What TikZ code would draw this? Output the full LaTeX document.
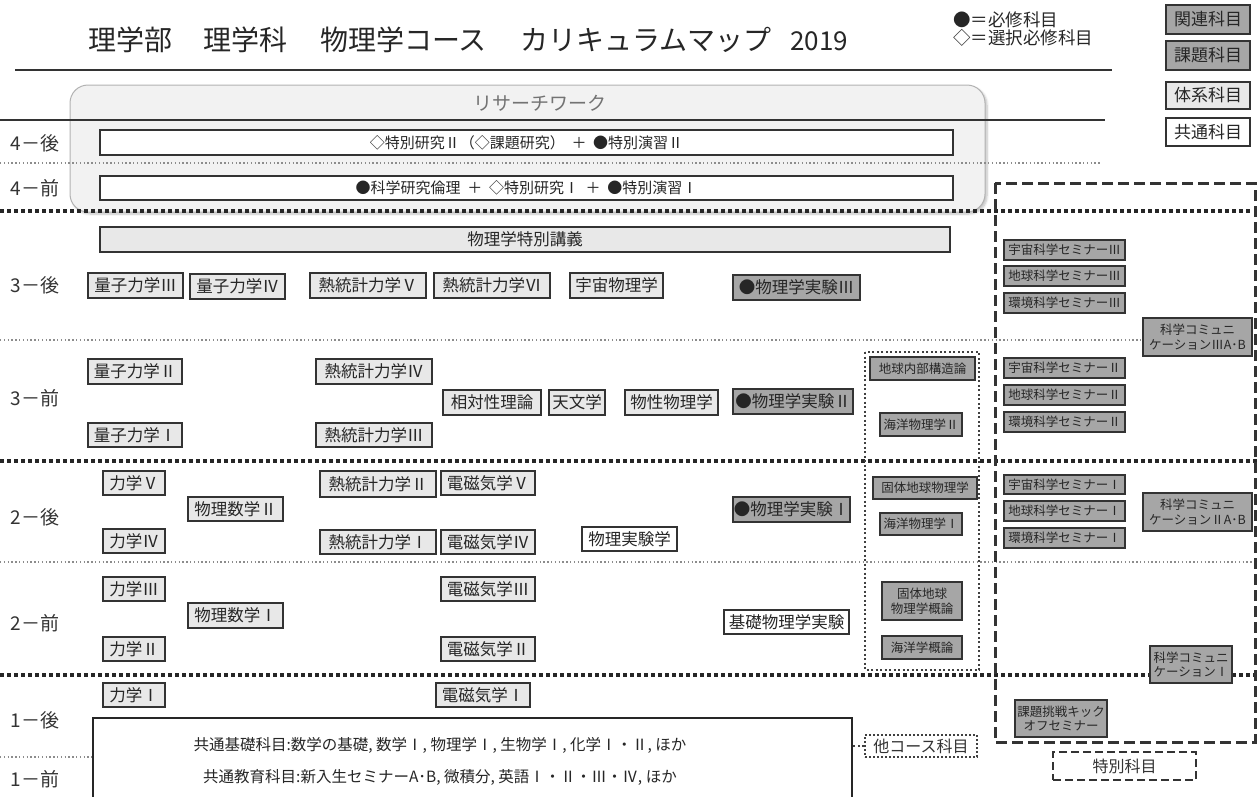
\documentclass[tikz,border=0pt]{standalone}
\usepackage{fontspec}
\setmainfont{Noto Sans CJK JP}
\usetikzlibrary{shadows,shadows.blur}
\newcommand\bx[7][]{\node[#1, minimum width={(#5-#3)*1pt}, minimum height={(#6-#4)*1pt}] (#2) at ({(#3+#5)/2},{(#4+#6)/2}) {#7};}
\begin{document}
\begin{tikzpicture}[x=1pt,y=-1pt,
  box/.style={draw=black!80, line width=1.2pt, inner sep=0pt, align=center, text=black!85,
    font=\fontsize{16.5}{18}\selectfont,
    drop shadow={opacity=0.3,shadow xshift=1.2pt,shadow yshift=-1.2pt}},
  tai/.style={box, fill=black!9},
  kan/.style={box, fill=black!35},
  kyo/.style={box, fill=white},
  small/.style={font=\fontsize{12.5}{15}\selectfont},
  sem/.style={kan, font=\fontsize{12.5}{14.5}\selectfont},
  rowlab/.style={text=black!80, font=\fontsize{19}{19}\selectfont, inner sep=0pt},
  thickdot/.style={line width=3.5pt, dash pattern=on 3.5pt off 3.5pt, black!85},
  thindot/.style={line width=1.4pt, dash pattern=on 1.4pt off 2.4pt, black!45},
  geodot/.style={line width=2pt, dash pattern=on 2pt off 2.5pt, black!75},
  thickdash/.style={line width=3pt, dash pattern=on 11pt off 5pt, black!80},
  legbox/.style={box, font=\fontsize{17}{17}\selectfont},
  ttl/.style={anchor=base west, inner sep=0pt, text=black!85, font=\fontsize{28}{28}\selectfont},
  legtxt/.style={anchor=west, inner sep=0pt, text=black!85, font=\fontsize{17.5}{17.5}\selectfont}
]
\useasboundingbox (0,0) rectangle (1258,796);

% research work area
\node[draw=black!30, fill=black!5, line width=1pt, rounded corners=18pt,
  minimum width=915pt, minimum height=127pt,
  blur shadow={shadow xshift=2pt, shadow yshift=-2pt, shadow blur steps=6, shadow opacity=25}] (rw) at (527.5,148.5) {};
\node[text=black!55, font=\fontsize{19}{19}\selectfont] (rwlab) at (540,103) {リサーチワーク};

% title
\node[ttl] (t1) at (88,50) {理学部};
\node[ttl] (t2) at (203,50) {理学科};
\node[ttl] (t3) at (320,50) {物理学コース};
\node[ttl] (t4) at (520,50) {カリキュラムマップ};
\node[ttl, font=\fontsize{26}{26}\selectfont] (t5) at (790,50) {2019};
\node[legtxt] (lg1) at (953,20) {●＝必修科目};
\node[legtxt] (lg2) at (953,38) {◇＝選択必修科目};
\draw[line width=1.5pt, black!80] (15,70) -- (1112,70);

% legend boxes
\bx[legbox, fill=black!35]{kanren}{1166}{5}{1250}{34}{関連科目}
\bx[legbox, fill=black!35]{kadai}{1166}{41}{1250}{70}{課題科目}
\bx[legbox, fill=black!9]{taikei}{1166}{82}{1250}{109}{体系科目}
\bx[legbox, fill=white]{kyotsu}{1166}{118}{1250}{146}{共通科目}

% separators
\draw[line width=1.3pt, black!80] (0,120) -- (1105,120);
\draw[thindot] (0,163) -- (1100,163);
\draw[thickdot] (0,211) -- (1250,211);
\draw[thindot] (0,340) -- (1258,340);
\draw[thickdot] (0,461) -- (1258,461);
\draw[thindot] (0,562) -- (1258,562);
\draw[thickdot] (0,675) -- (1258,675);
\draw[thindot] (0,757) -- (93,757);

% right dashed region and geo dotted box
\draw[thickdash] (995,183) rectangle (1255,742);
\draw[geodot] (865,352) rectangle (979,670);

% row labels
\node[rowlab] (l4b) at (35,143) {4－後};
\node[rowlab] (l4a) at (35,188) {4－前};
\node[rowlab] (l3b) at (35,285) {3－後};
\node[rowlab] (l3a) at (35,398) {3－前};
\node[rowlab] (l2b) at (35,517) {2－後};
\node[rowlab] (l2a) at (35,623) {2－前};
\node[rowlab] (l1b) at (35,720) {1－後};
\node[rowlab] (l1a) at (35,779) {1－前};

% year 4
\bx[kyo, font=\fontsize{15}{17}\selectfont]{r4b}{100}{130}{953}{155}{◇特別研究Ⅱ（◇課題研究） \ ＋ \ ●特別演習Ⅱ}
\bx[kyo, font=\fontsize{15}{17}\selectfont]{r4a}{100}{176}{953}{200}{●科学研究倫理 \ ＋ \ ◇特別研究Ⅰ \ ＋ \ ●特別演習Ⅰ}

% year 3 late
\bx[tai]{sp}{100}{227}{950}{252}{物理学特別講義}
\bx[tai]{q3}{88}{273}{183}{298}{量子力学Ⅲ}
\bx[tai]{q4}{190}{274}{285}{299}{量子力学Ⅳ}
\bx[tai]{t5}{310}{273}{426}{298}{熱統計力学Ⅴ}
\bx[tai]{t6}{434}{273}{550}{298}{熱統計力学Ⅵ}
\bx[tai]{uc}{570}{273}{663}{298}{宇宙物理学}
\bx[kan]{e3}{733}{275}{860}{300}{●物理学実験Ⅲ}

% year 3 early
\bx[tai]{q2}{88}{359}{182}{384}{量子力学Ⅱ}
\bx[tai]{t4}{316}{359}{432}{384}{熱統計力学Ⅳ}
\bx[tai]{rel}{443}{390}{541}{415}{相対性理論}
\bx[tai]{ast}{549}{390}{605}{415}{天文学}
\bx[tai]{sol}{625}{390}{718}{415}{物性物理学}
\bx[kan]{e2}{733}{389}{853}{414}{●物理学実験Ⅱ}
\bx[tai]{q1}{88}{423}{182}{447}{量子力学Ⅰ}
\bx[tai]{t3}{316}{423}{432}{447}{熱統計力学Ⅲ}
\bx[kan, small]{gi}{870}{357}{975}{380}{地球内部構造論}
\bx[kan, small]{o2}{880}{413}{962}{436}{海洋物理学Ⅱ}

% year 2 late
\bx[tai]{m5}{103}{471}{165}{495}{力学Ⅴ}
\bx[tai]{pm2}{188}{497}{283}{521}{物理数学Ⅱ}
\bx[tai]{m4}{103}{529}{165}{553}{力学Ⅳ}
\bx[tai]{t2}{320}{471}{436}{497}{熱統計力学Ⅱ}
\bx[tai]{em5}{441}{471}{535}{495}{電磁気学Ⅴ}
\bx[tai]{t1}{320}{530}{436}{554}{熱統計力学Ⅰ}
\bx[tai]{em4}{441}{530}{535}{554}{電磁気学Ⅳ}
\bx[kyo]{px}{582}{527}{677}{551}{物理実験学}
\bx[kan]{e1}{733}{497}{850}{522}{●物理学実験Ⅰ}
\bx[kan, small]{se}{873}{477}{977}{499}{固体地球物理学}
\bx[kan, small]{o1}{880}{513}{962}{535}{海洋物理学Ⅰ}

% year 2 early
\bx[tai]{m3}{103}{577}{165}{601}{力学Ⅲ}
\bx[tai]{pm1}{188}{603}{283}{628}{物理数学Ⅰ}
\bx[tai]{m2}{103}{637}{165}{661}{力学Ⅱ}
\bx[tai]{em3}{441}{577}{535}{601}{電磁気学Ⅲ}
\bx[tai]{em2}{441}{637}{535}{661}{電磁気学Ⅱ}
\bx[kyo]{bx}{724}{610}{849}{634}{基礎物理学実験}
\bx[kan, small]{sei}{882}{582}{962}{620}{固体地球\\物理学概論}
\bx[kan, small]{oc}{882}{636}{962}{659}{海洋学概論}

% year 1
\bx[tai]{m1}{103}{683}{165}{707}{力学Ⅰ}
\bx[tai]{em1}{436}{683}{530}{707}{電磁気学Ⅰ}
\node[draw=black!85, line width=2.5pt, fill=white, inner sep=0pt,
  minimum width=759pt, minimum height=84pt] (common) at (472.5,760) {};
\node[text=black!85, inner sep=0pt, font=\fontsize{15.5}{18}\selectfont] (c1) at (440,745)
  {共通基礎科目:数学の基礎, 数学Ⅰ, 物理学Ⅰ, 生物学Ⅰ, 化学Ⅰ・Ⅱ, ほか};
\node[text=black!85, inner sep=0pt, font=\fontsize{15.5}{18}\selectfont] (c2) at (440,777)
  {共通教育科目:新入生セミナーA･B, 微積分, 英語Ⅰ・Ⅱ・Ⅲ・Ⅳ, ほか};
\bx[draw=black!75, line width=2pt, dash pattern=on 2pt off 2pt, fill=white, inner sep=0pt, text=black!80, font=\fontsize{16}{17}\selectfont]{oth}{865}{735}{977}{757}{他コース科目}
\draw[geodot] (oth.west) -- (oth.west -| common.east);
\bx[draw=black!80, line width=2pt, dash pattern=on 8pt off 4pt, inner sep=0pt, text=black!80, font=\fontsize{16}{17}\selectfont]{tok}{1053}{752}{1196}{780}{特別科目}

% right column
\bx[sem]{us3}{1004}{240}{1125}{260}{宇宙科学セミナーⅢ}
\bx[sem]{cs3}{1004}{266}{1125}{286}{地球科学セミナーⅢ}
\bx[sem]{es3}{1004}{293}{1125}{313}{環境科学セミナーⅢ}
\bx[sem]{cm3}{1143}{318}{1252}{356}{科学コミュニ\\ケーションⅢA･B}
\bx[sem]{us2}{1004}{358}{1125}{378}{宇宙科学セミナーⅡ}
\bx[sem]{cs2}{1004}{385}{1125}{405}{地球科学セミナーⅡ}
\bx[sem]{es2}{1004}{412}{1125}{432}{環境科学セミナーⅡ}
\bx[sem]{us1}{1004}{475}{1125}{494}{宇宙科学セミナーⅠ}
\bx[sem]{cs1}{1004}{501}{1125}{521}{地球科学セミナーⅠ}
\bx[sem]{es1}{1004}{528}{1125}{548}{環境科学セミナーⅠ}
\bx[sem]{cm2}{1143}{493}{1252}{531}{科学コミュニ\\ケーションⅡA･B}
\bx[sem]{cm1}{1150}{646}{1232}{683}{科学コミュニ\\ケーションⅠ}
\bx[sem]{kick}{1015}{700}{1107}{737}{課題挑戦キック\\オフセミナー}
\end{tikzpicture}
\end{document}
